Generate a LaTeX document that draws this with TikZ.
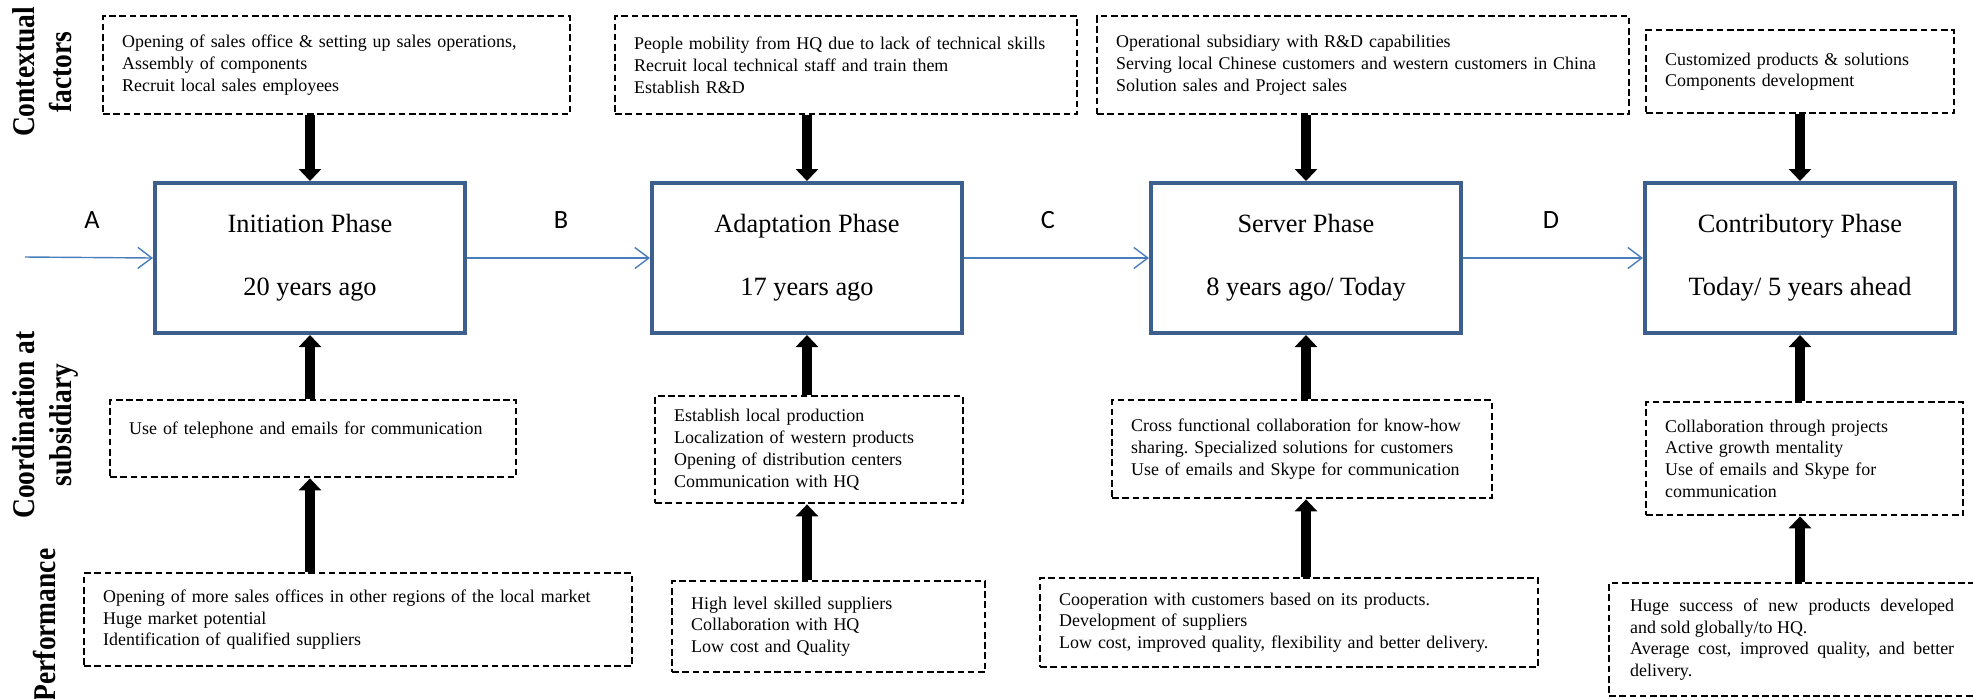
\documentclass[tikz,border=0pt]{standalone}
\usepackage{fontspec}
\setmainfont{Liberation Serif}
\newfontfamily\sidefont{Liberation Serif}[FakeStretch=0.87]
\newfontfamily\letterfont{Carlito}
\usetikzlibrary{arrows.meta}
\definecolor{phaseblue}{HTML}{3C5F8E}
\definecolor{flowblue}{HTML}{4A7EBB}
\setlength{\parindent}{0pt}
\frenchspacing

\begin{document}
\begin{tikzpicture}[x=0.02cm,y=-0.02cm,
  phase/.style={draw=phaseblue,line width=2.3pt,minimum width=6.2cm,minimum height=3cm,align=center,font=\fontsize{15}{17}\selectfont},
  note/.style={draw,dash pattern=on 3.8pt off 2pt,line width=1.35pt,anchor=north west,align=left,inner xsep=0.38cm,font=\fontsize{10.2}{12.35}\selectfont},
  side/.style={rotate=90,anchor=north,inner sep=0pt,align=center,font=\sidefont\bfseries\fontsize{18}{21}\selectfont},
  letter/.style={font=\letterfont\fontsize{15}{18}\selectfont},
  flow/.style={draw=flowblue,line width=0.8pt,-{Straight Barb[length=8pt,width=12pt]}},
  push/.style={line width=0.2cm,-{Triangle[length=0.24cm,width=0.44cm]}}]
\useasboundingbox (0,0) rectangle (1973,698);
\clip (0,0) rectangle (1973,698);

\node[side] (ctx) at (12,72) {Contextual\\factors};
\node[side] (crd) at (12,425) {Coordination at\\subsidiary};
\node[side] (prf) at (33,625) {Performance};

\node[phase] (P1) at (310,258) {Initiation Phase\\[19pt]20 years ago};
\node[phase] (P2) at (807,258) {Adaptation Phase\\[19pt]17 years ago};
\node[phase] (P3) at (1306,258) {Server Phase\\[19pt]8 years ago/ Today};
\node[phase] (P4) at (1800,258) {Contributory Phase\\[19pt]Today/ 5 years ahead};

\node[note,text width=8.58cm,minimum height=1.96cm] (T1) at (102,15) {Opening of sales office \& setting up sales operations,\\Assembly of components\\Recruit local sales employees};
\node[note,text width=8.48cm,minimum height=1.96cm] (T2) at (614,15) {People mobility from HQ due to lack of technical skills\\Recruit local technical staff and train them\\Establish R\&D};
\node[note,text width=9.88cm,minimum height=1.96cm] (T3) at (1096,15) {Operational subsidiary with R\&D capabilities\\Serving local Chinese customers and western customers in China\\Solution sales and Project sales};
\node[note,text width=5.40cm,minimum height=1.66cm] (T4) at (1645,29) {Customized products \& solutions\\Components development};

\node[note,text width=7.36cm,minimum height=1.54cm] (C1) at (109,399) {Use of telephone and emails for communication\\\mbox{}};
\node[note,text width=5.40cm,minimum height=2.14cm] (C2) at (654,395) {Establish local production\\Localization of western products\\Opening of distribution centers\\Communication with HQ};
\node[note,text width=6.84cm,minimum height=1.96cm] (C3) at (1111,399) {Cross functional collaboration for know-how\\sharing. Specialized solutions for customers\\Use of emails and Skype for communication};
\node[note,text width=5.58cm,minimum height=2.26cm] (C4) at (1645,401) {Collaboration through projects\\Active growth mentality\\Use of emails and Skype for\\communication};

\node[note,text width=10.20cm,minimum height=1.86cm] (R1) at (83,572) {Opening of more sales offices in other regions of the local market\\Huge market potential\\Identification of qualified suppliers};
\node[note,text width=5.50cm,minimum height=1.82cm] (R2) at (671,580) {High level skilled suppliers\\Collaboration with HQ\\Low cost and Quality};
\node[note,text width=9.20cm,minimum height=1.78cm] (R3) at (1039,577) {Cooperation with customers based on its products.\\Development of suppliers\\Low cost, improved quality, flexibility and better delivery.};
\node[note,align=justify,inner xsep=0.42cm,text width=6.48cm,minimum height=2.26cm] (R4) at (1608,582) {Huge success of new products developed\linebreak and sold globally/to HQ.\\Average cost, improved quality, and better\linebreak delivery.};

\coordinate (S) at (25,257);
\node[letter] (A) at (92,220) {A};
\node[letter] (B) at (561,220) {B};
\node[letter] (C) at (1048,220) {C};
\node[letter] (D) at (1551,220) {D};

\draw[flow] (S) -- (P1.west);
\draw[flow] (P1.east) -- (P2.west);
\draw[flow] (P2.east) -- (P3.west);
\draw[flow] (P3.east) -- (P4.west);

\draw[push] (T1.south -| P1.north) -- (P1.north);
\draw[push] (T2.south -| P2.north) -- (P2.north);
\draw[push] (T3.south -| P3.north) -- (P3.north);
\draw[push] (T4.south -| P4.north) -- (P4.north);
\draw[push] (C1.north -| P1.south) -- (P1.south);
\draw[push] (C2.north -| P2.south) -- (P2.south);
\draw[push] (C3.north -| P3.south) -- (P3.south);
\draw[push] (C4.north -| P4.south) -- (P4.south);
\draw[push] (R1.north -| P1.south) -- (C1.south -| P1.south);
\draw[push] (R2.north -| P2.south) -- (C2.south -| P2.south);
\draw[push] (R3.north -| P3.south) -- (C3.south -| P3.south);
\draw[push] (R4.north -| P4.south) -- (C4.south -| P4.south);
\end{tikzpicture}
\end{document}
